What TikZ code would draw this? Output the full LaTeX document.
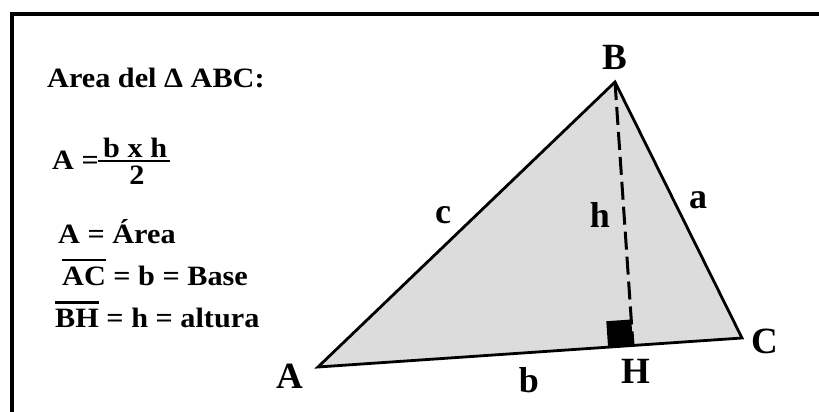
\documentclass[tikz,border=0pt]{standalone}
\usepackage{fontspec}
\setmainfont{Liberation Serif}
\usetikzlibrary{calc}
\definecolor{tri}{HTML}{DCDCDC}
\newcommand\wide[1]{\scalebox{1.08}[1]{#1}}
\newcommand\ovl[1]{\vbox{\hrule height 2.4pt\kern 5pt\hbox{#1}}}
\tikzset{
  txt/.style={font=\fontsize{28}{32}\selectfont\bfseries, inner sep=0pt, anchor=base west},
  vlbl/.style={font=\fontsize{37}{40}\selectfont\bfseries, inner sep=0pt, anchor=base},
  slbl/.style={font=\fontsize{36}{40}\selectfont\bfseries, inner sep=0pt, anchor=base},
  edge/.style={line width=2.8pt, line join=miter},
}
\begin{document}
\begin{tikzpicture}[x=1pt,y=-1pt]
\useasboundingbox (0,0) rectangle (819,412);
\fill[white] (0,0) rectangle (819,412);
% frame
\draw[line width=3.5pt] (12,440) -- (12,14) -- (840,14);
% triangle
\coordinate (A) at (318,367);
\coordinate (B) at (615,82);
\coordinate (C) at (742,338);
\coordinate (H) at ($(A)!(B)!(C)$);
\fill[tri] (A) -- (B) -- (C) -- cycle;
\coordinate (Q1) at ($(H)!25pt!(A)$);
\coordinate (Q3) at ($(H)!26pt!(B)$);
\coordinate (Q2) at ($(Q1)+(Q3)-(H)$);
\fill[black] (H) -- (Q1) -- (Q2) -- (Q3) -- cycle;
\draw[line width=3pt, dash pattern=on 18pt off 7pt] (B) -- (H);
\draw[edge] (A) -- (B) -- (C) -- cycle;
% vertex labels
\node[vlbl] (lA) at (290,388) {A};
\node[vlbl] (lB) at (615,70) {B};
\node[vlbl] (lC) at (765,353) {C};
\node[vlbl] (lH) at (636,383) {H};
% side labels
\node[slbl] (lb) at (529,392) {b};
\node[slbl] (lc) at (443,223) {c};
\node[slbl] (lh) at (600,227) {h};
\node[slbl] (la) at (698,208) {a};
% text on the left
\node[txt] (t1) at (47,88) {\wide{Area del Δ ABC:}};
\node[txt] (t2) at (52,169) {\wide{A =}};
\node[txt] (num) at (103,157) {\wide{b x h}};
\node[txt, anchor=base] (den) at (137,184) {\wide{2}};
\coordinate (barL) at (98,161);
\coordinate (barR) at (170,161);
\draw[line width=2.5pt] (barL) -- (barR);
\node[txt] (t3) at (58,243) {\wide{A = Área}};
\node[txt] (t4) at (62,285) {\wide{\ovl{AC} = b = Base}};
\node[txt] (t5) at (55,327) {\wide{\ovl{BH} = h = altura}};
\end{tikzpicture}
\end{document}
